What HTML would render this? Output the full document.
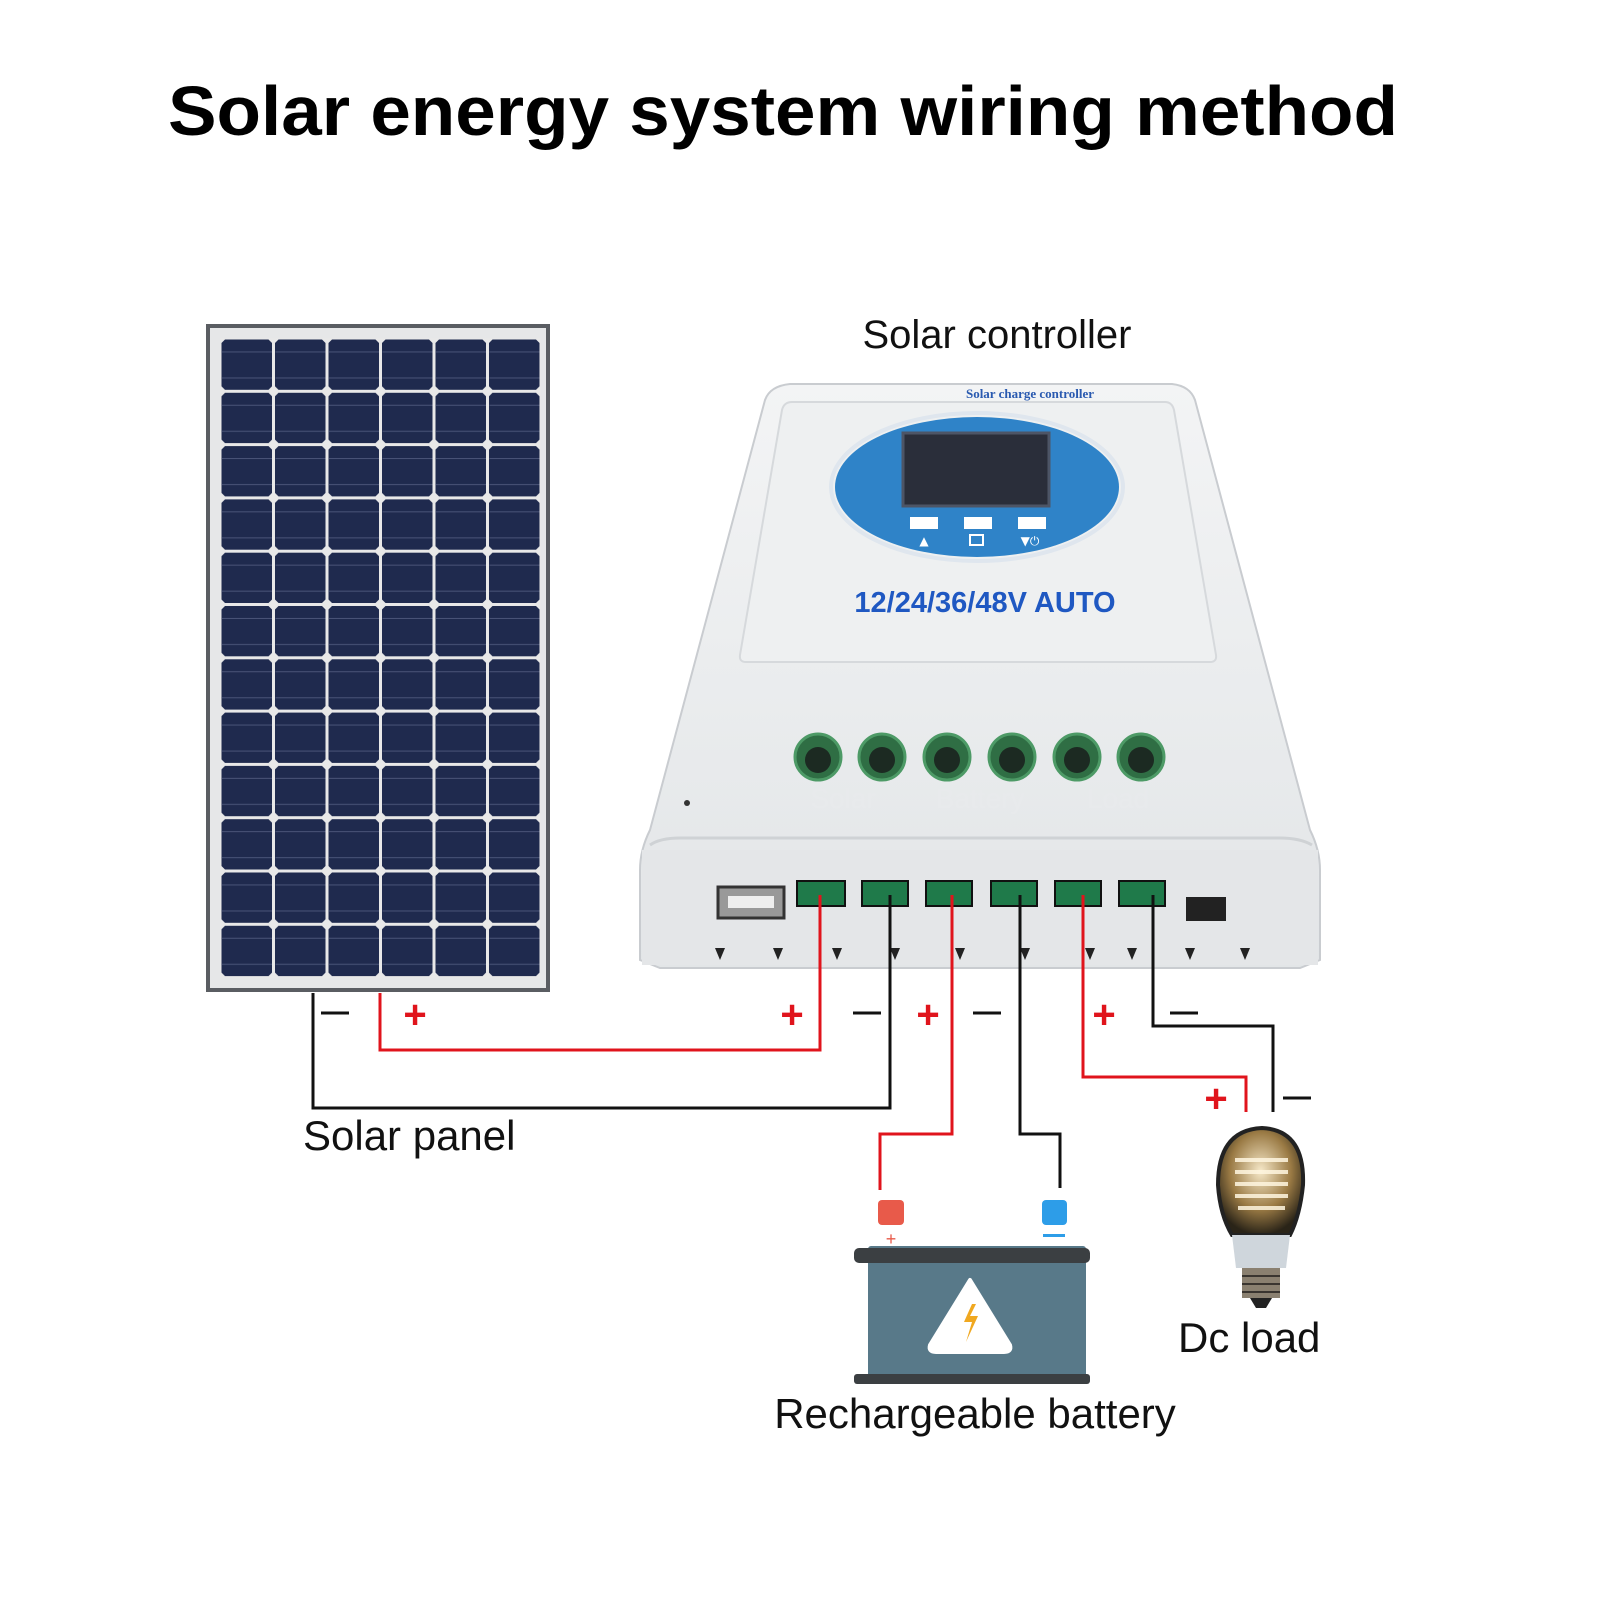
<!DOCTYPE html>
<html><head><meta charset="utf-8"><style>
html,body{margin:0;padding:0;background:#fff;}
svg{display:block;}
</style></head><body>
<svg width="1600" height="1600" viewBox="0 0 1600 1600" xmlns="http://www.w3.org/2000/svg">
<defs>
<pattern id="cell" x="220" y="338" width="53.5" height="53.3" patternUnits="userSpaceOnUse">
<rect width="53.5" height="53.3" fill="#e8e8e8"/>
<path d="M5 1.5 H48.5 L52 5 V48.3 L48.5 51.8 H5 L1.5 48.3 V5 Z" fill="#1f2a4e"/>
<line x1="2" y1="14" x2="52" y2="14" stroke="#4a5478" stroke-width="1"/>
<line x1="2" y1="40" x2="52" y2="40" stroke="#4a5478" stroke-width="1"/>
</pattern>
<linearGradient id="body" x1="0" y1="0" x2="0" y2="1">
<stop offset="0" stop-color="#f3f4f5"/><stop offset="1" stop-color="#e2e5e7"/>
</linearGradient>
<radialGradient id="bulb" cx="0.5" cy="0.4" r="0.6">
<stop offset="0" stop-color="#f6e8c8"/><stop offset="0.6" stop-color="#9a7a44"/><stop offset="1" stop-color="#2a2418"/>
</radialGradient>
</defs>

<text x="168" y="135" textLength="1230" lengthAdjust="spacingAndGlyphs" font-family="Liberation Sans, sans-serif" font-weight="bold" font-size="70" fill="#000">Solar energy system wiring method</text>

<!-- solar panel -->
<rect x="208" y="326" width="340" height="664" fill="#e6e7e8" stroke="#5a5d62" stroke-width="4"/>
<rect x="220" y="338" width="321" height="640" fill="url(#cell)"/>

<!-- controller -->
<text x="997" y="348" text-anchor="middle" font-family="Liberation Sans, sans-serif" font-size="40" fill="#111">Solar controller</text>
<path d="M790 384 H1172 Q1190 386 1195 400 L1310 830 Q1320 850 1320 870 V960 L1300 968 H660 L640 960 V870 Q640 850 650 830 L765 400 Q770 386 790 384 Z" fill="url(#body)" stroke="#c9ccd0" stroke-width="2"/>
<path d="M642 850 H1318 V965 H642 Z" fill="#e4e6e8"/>
<path d="M650 845 Q660 838 680 838 H1280 Q1300 838 1312 845" fill="none" stroke="#cfd2d5" stroke-width="3"/>
<path d="M792 402 H1165 Q1172 402 1174 410 L1216 655 Q1217 662 1210 662 H746 Q739 662 740 655 L782 410 Q784 402 792 402 Z" fill="#eef0f1" stroke="#d6d9dc" stroke-width="2"/>
<text x="1030" y="398" text-anchor="middle" font-family="Liberation Serif, serif" font-weight="bold" font-size="13" fill="#2a5ab0">Solar charge controller</text>
<ellipse cx="977" cy="487" rx="142" ry="70" fill="#2f83c8"/>
<ellipse cx="977" cy="487" rx="146" ry="74" fill="none" stroke="#dfe6ee" stroke-width="4"/>
<rect x="903" y="433" width="146" height="73" fill="#2a2e3a" stroke="#4d5566" stroke-width="3"/>
<rect x="910" y="517" width="28" height="12" fill="#fff"/>
<rect x="964" y="517" width="28" height="12" fill="#fff"/>
<rect x="1018" y="517" width="28" height="12" fill="#fff"/>
<text x="924" y="545" text-anchor="middle" font-size="12" fill="#fff" font-family="DejaVu Sans, sans-serif">▲</text>
<rect x="970" y="535" width="13" height="10" fill="none" stroke="#fff" stroke-width="2"/>
<text x="1030" y="545" text-anchor="middle" font-size="12" fill="#fff" font-family="DejaVu Sans, sans-serif">▼⏻</text>
<text x="985" y="612" text-anchor="middle" font-family="Liberation Sans, sans-serif" font-weight="bold" font-size="29" fill="#1f58c2">12/24/36/48V AUTO</text>
<text x="843" y="808" text-anchor="middle" font-family="Liberation Sans, sans-serif" font-size="28" fill="#e8eaec">Solar</text>
<text x="980" y="808" text-anchor="middle" font-family="Liberation Sans, sans-serif" font-size="28" fill="#e8eaec">Battery</text>
<text x="1118" y="808" text-anchor="middle" font-family="Liberation Sans, sans-serif" font-size="28" fill="#e8eaec">Load</text>
<circle cx="687" cy="803" r="3" fill="#333"/>
<g fill="#2f6e44" stroke="#4d9a66" stroke-width="3">
<circle cx="818" cy="757" r="23"/><circle cx="882" cy="757" r="23"/><circle cx="947" cy="757" r="23"/>
<circle cx="1012" cy="757" r="23"/><circle cx="1077" cy="757" r="23"/><circle cx="1141" cy="757" r="23"/>
</g>
<g fill="#1c2a22">
<circle cx="818" cy="760" r="13"/><circle cx="882" cy="760" r="13"/><circle cx="947" cy="760" r="13"/>
<circle cx="1012" cy="760" r="13"/><circle cx="1077" cy="760" r="13"/><circle cx="1141" cy="760" r="13"/>
</g>
<g fill="#1f7a4a" stroke="#111" stroke-width="2">
<rect x="797" y="881" width="48" height="25"/><rect x="862" y="881" width="46" height="25"/>
<rect x="926" y="881" width="46" height="25"/><rect x="991" y="881" width="46" height="25"/>
<rect x="1055" y="881" width="46" height="25"/><rect x="1119" y="881" width="46" height="25"/>
</g>
<rect x="718" y="887" width="66" height="31" fill="#999" stroke="#333" stroke-width="3"/>
<rect x="728" y="896" width="46" height="12" fill="#eee"/>
<rect x="1186" y="897" width="40" height="24" fill="#222"/>
<g fill="#222">
<polygon points="715,948 725,948 720,960"/><polygon points="773,948 783,948 778,960"/>
<polygon points="832,948 842,948 837,960"/><polygon points="890,948 900,948 895,960"/>
<polygon points="955,948 965,948 960,960"/><polygon points="1020,948 1030,948 1025,960"/>
<polygon points="1085,948 1095,948 1090,960"/><polygon points="1127,948 1137,948 1132,960"/>
<polygon points="1185,948 1195,948 1190,960"/><polygon points="1240,948 1250,948 1245,960"/>
</g>

<!-- wires -->
<g fill="none" stroke-width="3">
<path d="M820 895 V1050 H380 V993" stroke="#e0141c"/>
<path d="M890 895 V1108 H313 V993" stroke="#111"/>
<path d="M952 895 V1134 H880 V1190" stroke="#e0141c"/>
<path d="M1020 895 V1134 H1060 V1188" stroke="#111"/>
<path d="M1083 895 V1077 H1246 V1112" stroke="#e0141c"/>
<path d="M1153 895 V1026 H1273 V1112" stroke="#111"/>
</g>
<g font-family="Liberation Sans, sans-serif" font-weight="bold" font-size="40" text-anchor="middle">
<text x="415" y="1028" fill="#e0141c">+</text>
<text x="792" y="1028" fill="#e0141c">+</text>
<text x="928" y="1028" fill="#e0141c">+</text>
<text x="1104" y="1028" fill="#e0141c">+</text>
<text x="1216" y="1112" fill="#e0141c">+</text>
</g>
<g stroke="#111" stroke-width="3">
<line x1="321" y1="1013" x2="349" y2="1013"/>
<line x1="853" y1="1013" x2="881" y2="1013"/>
<line x1="973" y1="1013" x2="1001" y2="1013"/>
<line x1="1170" y1="1013" x2="1198" y2="1013"/>
<line x1="1283" y1="1098" x2="1311" y2="1098"/>
</g>

<text x="303" y="1150" font-family="Liberation Sans, sans-serif" font-size="42" fill="#111">Solar panel</text>

<!-- battery -->
<rect x="878" y="1200" width="26" height="25" rx="4" fill="#e85a4a"/>
<rect x="1042" y="1200" width="25" height="25" rx="4" fill="#2d9de8"/>
<rect x="868" y="1246" width="218" height="132" rx="3" fill="#587989"/>
<rect x="854" y="1248" width="236" height="15" rx="5" fill="#3b3f42"/>
<rect x="854" y="1374" width="236" height="10" rx="3" fill="#3b3f42"/>
<text x="891" y="1245" text-anchor="middle" font-family="Liberation Sans, sans-serif" font-size="18" fill="#e85a4a">+</text>
<rect x="1043" y="1234" width="22" height="3" fill="#2d9de8"/>
<path d="M970 1280 L1010 1345 Q1012 1352 1004 1352 H936 Q928 1352 930 1345 Z" fill="#fff" stroke="#fff" stroke-width="4" stroke-linejoin="round"/>
<path d="M972 1304 L964 1322 L972 1322 L966 1342 L978 1316 L970 1316 L976 1304 Z" fill="#f0a820"/>
<text x="975" y="1428" text-anchor="middle" font-family="Liberation Sans, sans-serif" font-size="42" fill="#111">Rechargeable battery</text>

<!-- bulb -->
<path d="M1262 1128 Q1305 1130 1303 1185 Q1300 1215 1290 1235 H1232 Q1220 1215 1218 1185 Q1218 1130 1262 1128 Z" fill="url(#bulb)" stroke="#222" stroke-width="4"/>
<g stroke="#fff6e0" stroke-width="4" opacity="0.85">
<line x1="1235" y1="1160" x2="1288" y2="1160"/><line x1="1235" y1="1172" x2="1288" y2="1172"/>
<line x1="1235" y1="1184" x2="1288" y2="1184"/><line x1="1235" y1="1196" x2="1288" y2="1196"/>
<line x1="1238" y1="1208" x2="1285" y2="1208"/>
</g>
<path d="M1232 1235 H1290 L1286 1268 H1236 Z" fill="#cfd6dc"/>
<rect x="1242" y="1268" width="38" height="30" fill="#8a8070"/>
<g stroke="#3a3530" stroke-width="2"><line x1="1242" y1="1276" x2="1280" y2="1276"/><line x1="1242" y1="1284" x2="1280" y2="1284"/><line x1="1242" y1="1292" x2="1280" y2="1292"/></g>
<path d="M1250 1298 H1272 L1266 1308 H1256 Z" fill="#222"/>
<text x="1178" y="1352" font-family="Liberation Sans, sans-serif" font-size="42" fill="#111">Dc load</text>
</svg>
</body></html>
